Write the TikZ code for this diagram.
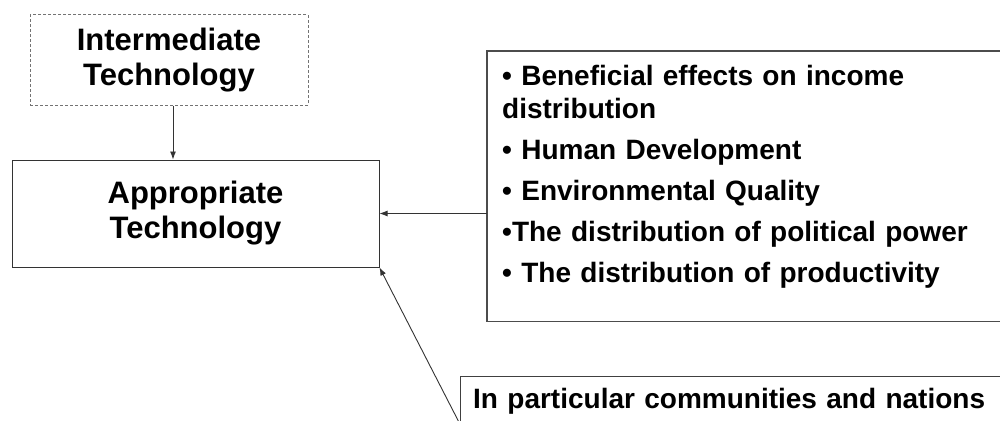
\documentclass[tikz,border=0pt]{standalone}
\usepackage{fontspec}
\setmainfont{Liberation Sans}
\usetikzlibrary{arrows.meta}
\begin{document}
\begin{tikzpicture}[x=1pt,y=-1pt,
  box/.style={draw=black!80, line width=1pt, inner sep=0pt, font=\bfseries},
  title/.style={box, align=center, font=\fontsize{31}{35}\selectfont\bfseries},
  openbox/.style={inner sep=0pt, anchor=north west, align=left, font=\fontsize{28}{33}\selectfont\bfseries},
  edge/.style={draw=black!75, line width=1pt},
  conn/.style={draw=black!80, line width=0.9pt, -{Latex[length=8pt,width=6pt]}}]
\useasboundingbox (0,0) rectangle (1000,420);
\coordinate (pageedge) at (1001,0);
\node[title, dashed, draw=black!55, dash pattern=on 3pt off 2pt, minimum width=278pt, minimum height=90pt] (inter) at (169,60) {Intermediate\\Technology};
\node[title, minimum width=367pt, minimum height=107pt] (appro) at (195.5,213.5) {Appropriate\\Technology};
\node[openbox, inner xsep=15pt, inner ysep=14pt, text width=490pt, text height=20pt, text depth=222pt] (effects) at (487,51)
  {• Beneficial effects on income\\distribution\\[8pt]• Human Development\\[8pt]• Environmental Quality\\[8pt]•The distribution of political power\\[8pt]• The distribution of productivity};
\node[openbox, inner xsep=13pt, inner ysep=12pt, text width=530pt, text height=20pt, text depth=40pt] (comm) at (460,376)
  {In particular communities and nations};
\draw[edge, line width=1.4pt, draw=black!70] (effects.north west -| pageedge) -- (effects.north west) -- (effects.south west) -- (effects.south west -| pageedge);
\draw[edge] (comm.north west -| pageedge) -- (comm.north west) -- (comm.south west);
\coordinate (interout) at ([xshift=4pt]inter.south);
\draw[conn] (interout) -- (appro.north -| interout);
\draw[conn] (effects.west |- appro.east) -- (appro.east);
\draw[conn] ([yshift=-6pt]comm.west) -- (appro.south east);
\end{tikzpicture}
\end{document}
